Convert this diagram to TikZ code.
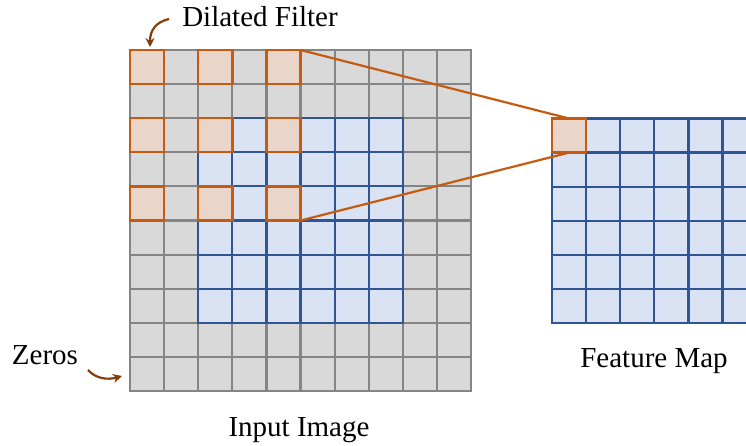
\documentclass[tikz,border=0pt]{standalone}
\usepackage{fontspec}
\setmainfont{Liberation Serif}
\usetikzlibrary{arrows.meta}
\definecolor{gfill}{HTML}{D9D9D9}
\definecolor{gline}{HTML}{858585}
\definecolor{bfill}{HTML}{DAE3F3}
\definecolor{bline}{HTML}{2F5597}
\definecolor{ofill}{HTML}{EAD5CA}
\definecolor{oline}{HTML}{C55A11}
\definecolor{brownarrow}{HTML}{843C0C}
\begin{document}
\begin{tikzpicture}[x=1pt,y=-1pt,
  cellbase/.style={minimum size=34.1pt, inner sep=0pt, outer sep=0pt, anchor=north west, line width=2.2pt},
  greycell/.style={cellbase, draw=gline, fill=gfill},
  bluecell/.style={cellbase, draw=bline, fill=bfill},
  orangecell/.style={cellbase, draw=oline, fill=ofill, line width=2.4pt},
  link/.style={draw=oline, line width=2.2pt},
  pointer/.style={draw=brownarrow, line width=2.2pt, -{Stealth[length=9pt,width=9pt]}},
  lbl/.style={font=\fontsize{29}{33}\selectfont, inner sep=0pt, anchor=base}
]
\useasboundingbox (0,0) rectangle (746,446);
% input image: grey padding
\foreach \r in {0,...,9}{
  \foreach \c in {0,...,9}{
    \node[greycell] (in-\r-\c) at ({130+34.1*\c},{50+34.1*\r}) {};
  }
}
% input image: blue content
\foreach \r in {2,...,7}{
  \foreach \c in {2,...,7}{
    \node[bluecell] (bl-\r-\c) at ({130+34.1*\c},{50+34.1*\r}) {};
  }
}
% dilated filter
\foreach \r in {0,2,4}{
  \foreach \c in {0,2,4}{
    \node[orangecell] (df-\r-\c) at ({130+34.1*\c},{50+34.1*\r}) {};
  }
}
% feature map
\foreach \r in {0,...,5}{
  \foreach \c in {0,...,5}{
    \node[bluecell] (fm-\r-\c) at ({552+34.1*\c},{118.5+34.1*\r}) {};
  }
}
\node[orangecell] (fmo) at (552,118.5) {};
% connectors
\draw[link] (df-0-4.north east) -- (fmo.north);
\draw[link] (df-4-4.south east) -- (fmo.south);
% labels
\node[lbl] (dil) at (260,27) {Dilated Filter};
\node[lbl] (zer) at (45,364) {Zeros};
\node[lbl] (fmap) at (654,367) {Feature Map};
\node[lbl] (inp) at (299,436) {Input Image};
% pointers
\coordinate (dilstart) at (169,19);
\coordinate (diltip) at (150,47);
\draw[pointer] (dilstart) .. controls (156,22) and (150,30) .. (diltip);
\coordinate (zerstart) at (88,370);
\coordinate (zertip) at (122,376);
\draw[pointer] (zerstart) .. controls (96,379) and (108,380) .. (zertip);
\end{tikzpicture}
\end{document}
